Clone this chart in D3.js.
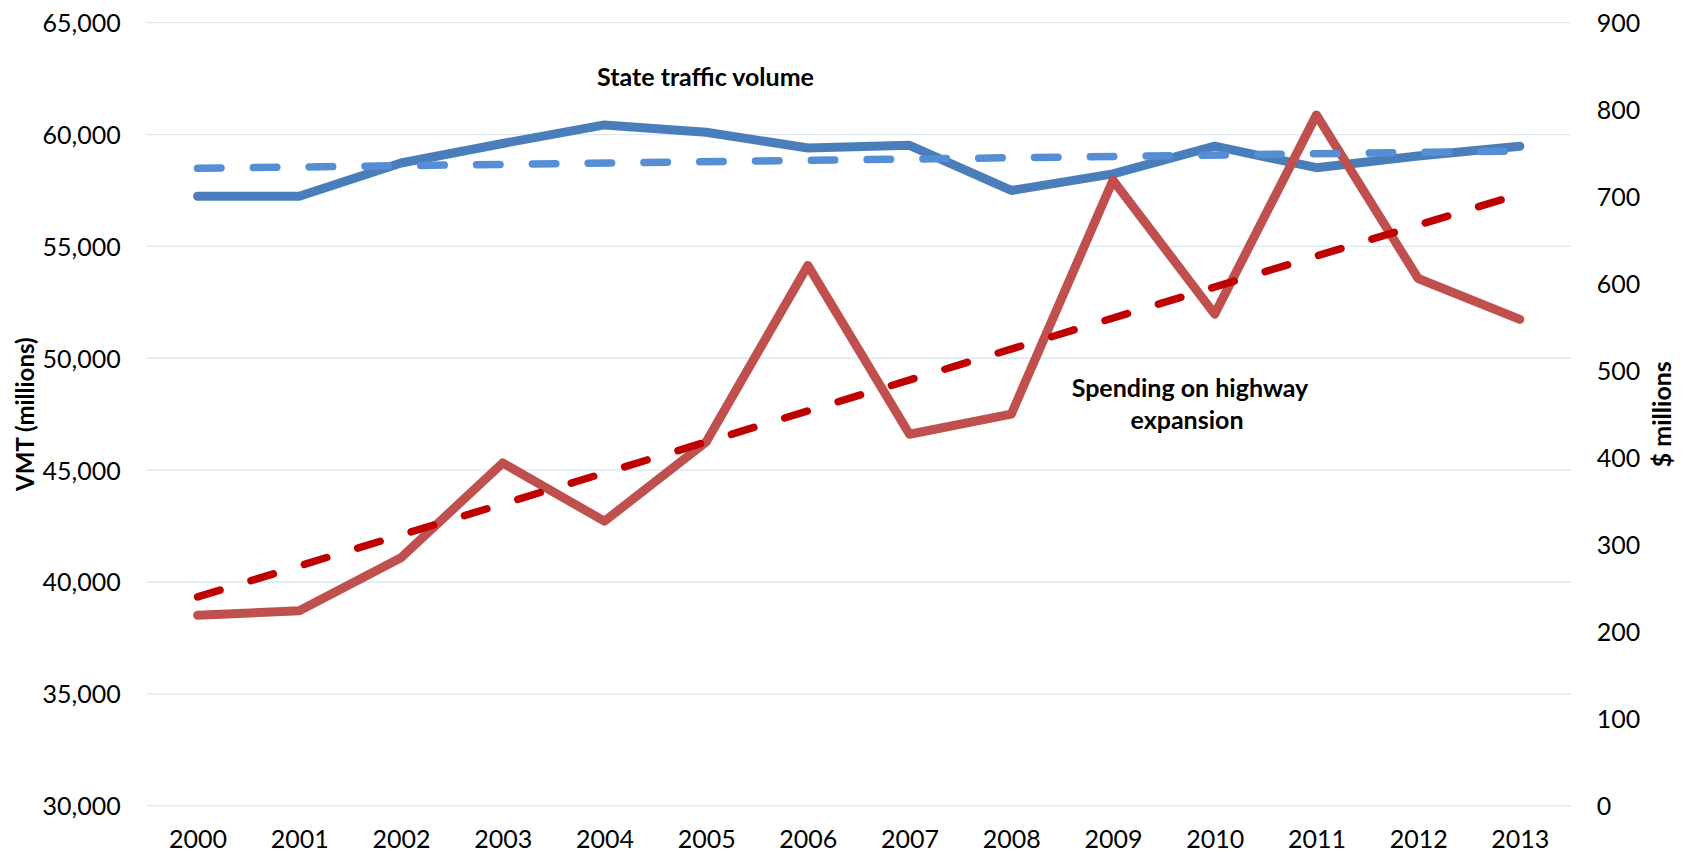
<!DOCTYPE html>
<html>
<head>
<meta charset="utf-8">
<script src="https://cdn.jsdelivr.net/npm/d3@7"></script>
<style>
  html, body { margin: 0; padding: 0; background: #fff; }
  svg { display: block; }
  text { font-family: Lato, "Open Sans", "Liberation Sans", sans-serif; fill: #000; }
</style>
</head>
<body>
<svg id="chart" width="1686" height="852"></svg>
<script>
// ---- data ----
const years = ["2000","2001","2002","2003","2004","2005","2006","2007","2008","2009","2010","2011","2012","2013"];
const vmt = [57240, 57240, 58730, 59600, 60430, 60100, 59400, 59520, 57500, 58240, 59480, 58520, 59040, 59480];
const spending = [219, 224, 285, 394, 327, 418, 621, 427, 450, 719, 565, 794, 606, 559];
const trendYears = ["2000", "2013"];
const vmtTrend = [58490, 59260];
const spendingTrend = [240, 703];
const leftTicks = [30000, 35000, 40000, 45000, 50000, 55000, 60000, 65000];
const rightTicks = [0, 100, 200, 300, 400, 500, 600, 700, 800, 900];
const leftTitle = "VMT (millions)";
const rightTitle = "$ millions";
const labelTraffic = "State traffic volume";
const labelSpending = ["Spending on highway", "expansion"];

// ---- layout ----
const plot = { left: 146.7, right: 1570.7, top: 22.7, bottom: 805.7 };
const svg = d3.select("#chart");

const x = d3.scalePoint().domain(years).range([plot.left, plot.right]).padding(0.5);
const yL = d3.scaleLinear().domain([30000, 65000]).range([plot.bottom, plot.top]);
const yR = d3.scaleLinear().domain([0, 900]).range([plot.bottom, plot.top]);

// gridlines
svg.append("g").selectAll("line").data(leftTicks).join("line")
  .attr("x1", plot.left).attr("x2", plot.right)
  .attr("y1", d => yL(d)).attr("y2", d => yL(d))
  .attr("stroke", "#dde6f2").attr("stroke-width", 1.3);

// left axis
const fmt = d3.format(",");
const leftAxis = svg.append("g").attr("transform", `translate(${plot.left - 26},0)`)
  .call(d3.axisLeft(yL).tickValues(leftTicks).tickFormat(fmt).tickSize(0).tickPadding(0));
leftAxis.select(".domain").remove();
leftAxis.selectAll("text").attr("font-size", 25).attr("font-family", "Lato, sans-serif").attr("fill", "#000").attr("dy", "0.36em");

// right axis
const rightAxis = svg.append("g").attr("transform", `translate(${plot.right + 26},0)`)
  .call(d3.axisRight(yR).tickValues(rightTicks).tickFormat(d3.format("d")).tickSize(0).tickPadding(0));
rightAxis.select(".domain").remove();
rightAxis.selectAll("text").attr("font-size", 25).attr("font-family", "Lato, sans-serif").attr("fill", "#000").attr("dy", "0.36em");

// bottom axis
const bottomAxis = svg.append("g").attr("transform", `translate(0,${plot.bottom})`)
  .call(d3.axisBottom(x).tickSize(0).tickPadding(0));
bottomAxis.select(".domain").remove();
bottomAxis.selectAll("text").attr("font-size", 25).attr("font-family", "Lato, sans-serif").attr("fill", "#000")
  .attr("dy", null).attr("y", 42.5);

// axis titles
svg.append("text").attr("transform", `translate(34,${(plot.top + plot.bottom) / 2}) rotate(-90)`)
  .attr("text-anchor", "middle").attr("font-size", 24).attr("font-weight", "bold").text(leftTitle);
svg.append("text").attr("transform", `translate(1671,${(plot.top + plot.bottom) / 2}) rotate(-90)`)
  .attr("text-anchor", "middle").attr("font-size", 25).attr("font-weight", "bold").text(rightTitle);

// lines
const lineL = d3.line().x((d, i) => x(years[i])).y(d => yL(d));
const lineR = d3.line().x((d, i) => x(years[i])).y(d => yR(d));
const trendL = d3.line().x((d, i) => x(trendYears[i])).y(d => yL(d));
const trendR = d3.line().x((d, i) => x(trendYears[i])).y(d => yR(d));

svg.append("path").datum(vmt).attr("d", lineL)
  .attr("fill", "none").attr("stroke", "#4a7ebb").attr("stroke-width", 9)
  .attr("stroke-linecap", "round").attr("stroke-linejoin", "round");
svg.append("path").datum(spending).attr("d", lineR)
  .attr("fill", "none").attr("stroke", "#c0504d").attr("stroke-width", 9)
  .attr("stroke-linecap", "round").attr("stroke-linejoin", "round");
svg.append("path").datum(vmtTrend).attr("d", trendL)
  .attr("fill", "none").attr("stroke", "#558ed5").attr("stroke-width", 7.5)
  .attr("stroke-linecap", "round").attr("stroke-dasharray", "23.5,32.3");
svg.append("path").datum(spendingTrend).attr("d", trendR)
  .attr("fill", "none").attr("stroke", "#c00000").attr("stroke-width", 7.5)
  .attr("stroke-linecap", "round").attr("stroke-dasharray", "23.5,32.3");

// annotations
svg.append("text").attr("x", 705.5).attr("y", 86).attr("text-anchor", "middle")
  .attr("font-size", 25).attr("font-weight", "bold").text(labelTraffic);
svg.append("text").attr("x", 1190).attr("y", 397).attr("text-anchor", "middle")
  .attr("font-size", 25).attr("font-weight", "bold").text(labelSpending[0]);
svg.append("text").attr("x", 1187).attr("y", 429).attr("text-anchor", "middle")
  .attr("font-size", 25).attr("font-weight", "bold").text(labelSpending[1]);
</script>
</body>
</html>
